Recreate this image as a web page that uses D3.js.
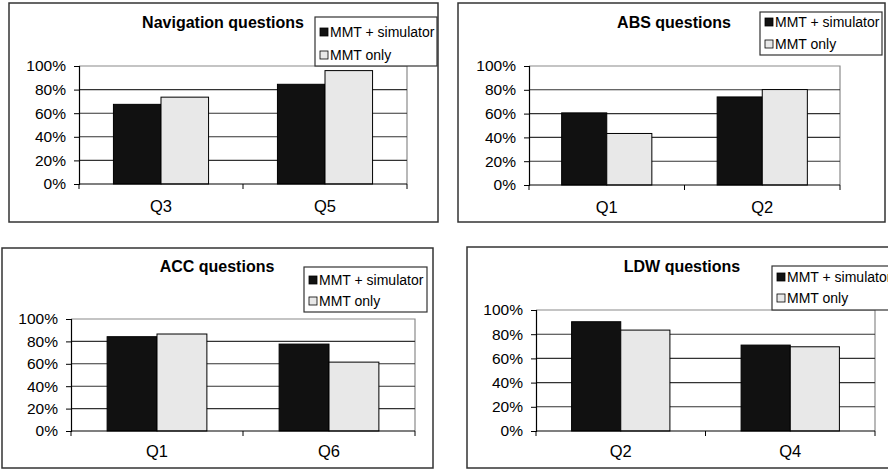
<!DOCTYPE html>
<html>
<head>
<meta charset="utf-8">
<script src="https://cdn.jsdelivr.net/npm/d3@7"></script>
<style>
  body { margin: 0; background: white; }
  svg { display: block; font-family: "Liberation Sans", Arial, sans-serif; }
</style>
</head>
<body>
<div id="chart"></div>
<script>
// Data (percent)
const seriesNames = ["MMT + simulator", "MMT only"];
const titles = ["Navigation questions", "ABS questions", "ACC questions", "LDW questions"];
const categories = [["Q3", "Q5"], ["Q1", "Q2"], ["Q1", "Q6"], ["Q2", "Q4"]];
const mmtSimulator = [[67.5, 84.5], [60.6, 74], [84.2, 77.6], [90.3, 71]];
const mmtOnly = [[73.6, 96.1], [43.3, 80.2], [86.6, 61.5], [83.4, 69.6]];
const yTicks = [0, 20, 40, 60, 80, 100];

// Layout of each panel (pixels)
const layout = [
    {frame: [9, 3, 438, 222], plot: [79, 66, 407, 184], legend: [315, 17, 122, 49], leg1: 20, leg2: 43, titleX: 223, titleY: 28, catY: 212},
    {frame: [458, 3, 885, 222], plot: [529, 66, 840, 185], legend: [760, 12, 122, 43], leg1: 15, leg2: 37, titleX: 674, titleY: 28, catY: 213},
    {frame: [2, 248, 433, 468], plot: [71, 319, 415, 431], legend: [304, 267, 123, 45], leg1: 18, leg2: 39, titleX: 217, titleY: 272, catY: 457},
    {frame: [467, 247, 900, 468], plot: [536, 310, 875, 431], legend: [772, 266, 130, 44], leg1: 16, leg2: 37, titleX: 682, titleY: 272, catY: 457}
];

const fills = ["#111111", "#e8e8e8"];

const svg = d3.select("#chart")
    .append("svg")
    .attr("width", 888)
    .attr("height", 469);

function drawPanel(i) {
    const L = layout[i];
    const g = svg.append("g");
    const [px0, py0, px1, py1] = L.plot;

    // outer frame
    g.append("rect")
        .attr("x", L.frame[0]).attr("y", L.frame[1])
        .attr("width", L.frame[2] - L.frame[0])
        .attr("height", L.frame[3] - L.frame[1])
        .attr("fill", "white")
        .attr("stroke", "#333")
        .attr("stroke-width", 1.5);

    const x = d3.scaleBand()
        .domain(categories[i])
        .range([px0, px1]);

    const xs = d3.scaleBand()
        .domain(seriesNames)
        .range([x.bandwidth() * 0.21, x.bandwidth() * 0.79]);

    const y = d3.scaleLinear()
        .domain([0, 100])
        .range([py1, py0]);

    // plot area border (top + right) in grey
    g.append("path")
        .attr("d", `M${px0},${py0}H${px1}V${py1}`)
        .attr("fill", "none")
        .attr("stroke", "#8a8a8a")
        .attr("stroke-width", 1.2);

    // gridlines
    g.selectAll(".grid")
        .data(yTicks.filter(t => t > 0 && t < 100))
        .enter().append("line")
        .attr("x1", px0).attr("x2", px1)
        .attr("y1", d => y(d)).attr("y2", d => y(d))
        .attr("stroke", "#333")
        .attr("stroke-width", 1.1);

    // bars
    const rows = categories[i].map((c, k) => ({cat: c, vals: [mmtSimulator[i][k], mmtOnly[i][k]]}));
    rows.forEach(r => {
        g.selectAll(null)
            .data(r.vals)
            .enter().append("rect")
            .attr("x", (d, s) => x(r.cat) + xs(seriesNames[s]))
            .attr("y", d => y(d))
            .attr("width", xs.bandwidth())
            .attr("height", d => y(0) - y(d))
            .attr("fill", (d, s) => fills[s])
            .attr("stroke", "#000")
            .attr("stroke-width", 1);
    });

    // y axis
    const yAxis = d3.axisLeft(y)
        .tickValues(yTicks)
        .tickSize(5)
        .tickPadding(8)
        .tickFormat(d => d + "%");
    const ya = g.append("g")
        .attr("transform", `translate(${px0},0)`)
        .call(yAxis);
    ya.select(".domain").attr("stroke", "#000").attr("stroke-width", 1.2);
    ya.selectAll(".tick line").attr("stroke", "#000");
    ya.selectAll("text")
        .attr("font-size", 15.5)
        .attr("font-family", "Liberation Sans, Arial, sans-serif")
        .attr("fill", "#000");

    // x axis line with boundary ticks
    g.append("line")
        .attr("x1", px0).attr("x2", px1)
        .attr("y1", py1).attr("y2", py1)
        .attr("stroke", "#000").attr("stroke-width", 1.2);
    const edges = [x(categories[i][0]), x(categories[i][1]), px1];
    g.selectAll(null)
        .data(edges)
        .enter().append("line")
        .attr("x1", d => d).attr("x2", d => d)
        .attr("y1", py1).attr("y2", py1 + 5)
        .attr("stroke", "#000");

    // category labels
    g.selectAll(null)
        .data(categories[i])
        .enter().append("text")
        .attr("x", d => x(d) + x.bandwidth() / 2)
        .attr("y", L.catY)
        .attr("text-anchor", "middle")
        .attr("font-size", 16.5)
        .text(d => d);

    // title
    g.append("text")
        .attr("x", L.titleX)
        .attr("y", L.titleY)
        .attr("text-anchor", "middle")
        .attr("font-size", 16)
        .attr("font-weight", "bold")
        .text(titles[i]);

    // legend
    const [lx, ly, lw, lh] = L.legend;
    g.append("rect")
        .attr("x", lx).attr("y", ly)
        .attr("width", lw).attr("height", lh)
        .attr("fill", "white")
        .attr("stroke", "#333")
        .attr("stroke-width", 1.2);
    [L.leg1, L.leg2].forEach((off, s) => {
        g.append("rect")
            .attr("x", lx + 5).attr("y", ly + off - 9)
            .attr("width", 8).attr("height", 8)
            .attr("fill", fills[s])
            .attr("stroke", "#000")
            .attr("stroke-width", 0.8);
        g.append("text")
            .attr("x", lx + 15)
            .attr("y", ly + off)
            .attr("font-size", 14)
            .text(seriesNames[s]);
    });
}

for (let i = 0; i < 4; i++) drawPanel(i);
</script>
</body>
</html>
